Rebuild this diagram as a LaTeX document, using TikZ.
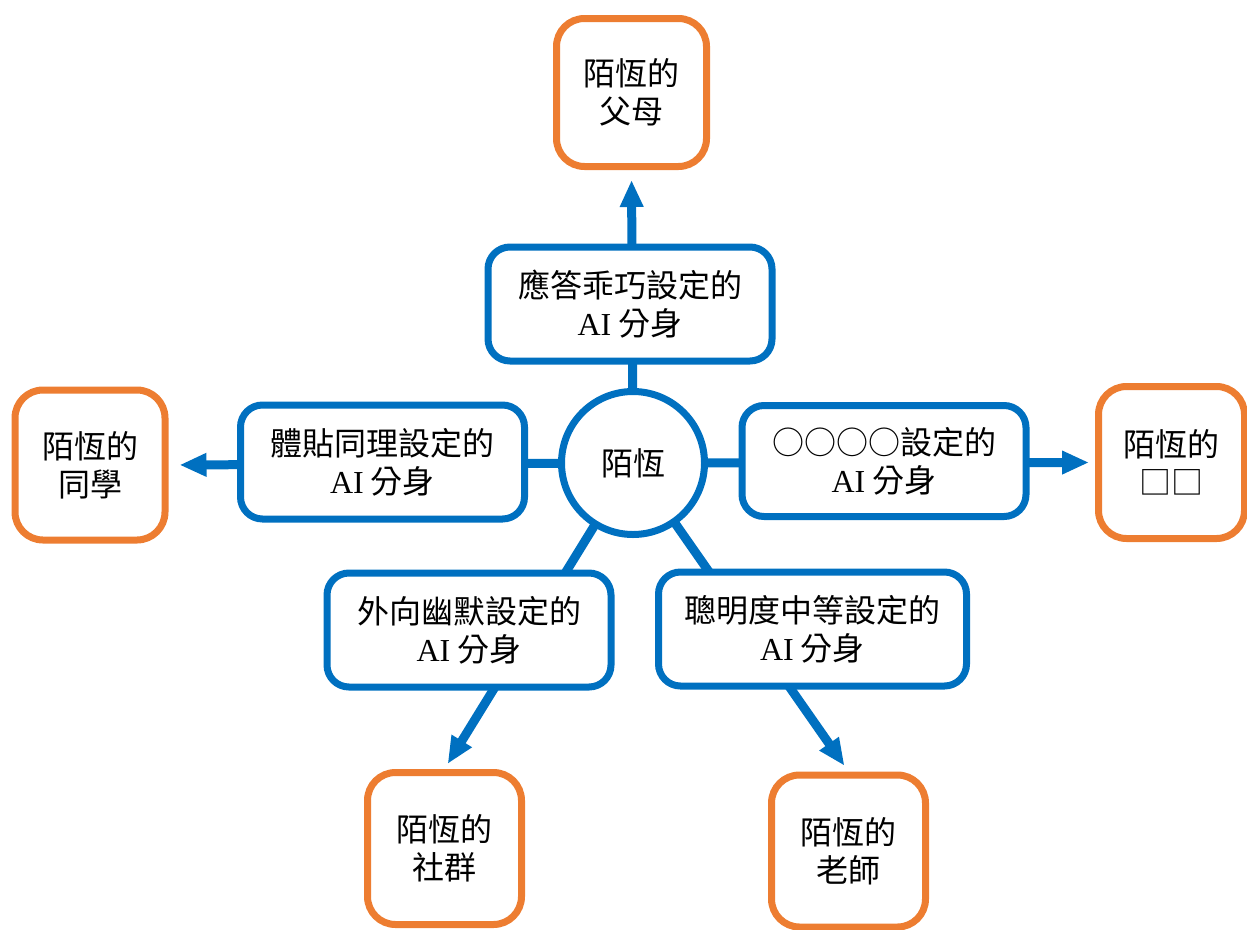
\documentclass[tikz,border=0pt]{standalone}
\usepackage{fontspec}
\setmainfont{Liberation Serif}
\newfontfamily\cjk{Noto Sans CJK TC}
\usetikzlibrary{arrows.meta,backgrounds}
\definecolor{myblue}{HTML}{0070C0}
\definecolor{myorange}{HTML}{ED7D31}
\tikzset{
  txt/.style={align=center, inner sep=0pt, font=\cjk\fontsize{32}{38}\selectfont, text=black},
  bluebox/.style={txt, draw=myblue, line width=7pt, rounded corners=22pt, fill=white, minimum width=284pt, minimum height=114pt},
  orangebox/.style={txt, draw=myorange, line width=7pt, rounded corners=28pt, fill=white, minimum width=150pt, minimum height=150pt},
  hub/.style={txt, circle, draw=myblue, line width=7pt, fill=white, minimum size=143pt},
  conn/.style={draw=myblue, line width=9pt},
  arr/.style={conn, -{Triangle[length=27pt,width=22pt]}}
}
\begin{document}
\begin{tikzpicture}[x=1pt,y=-1pt]
\useasboundingbox (0,0) rectangle (1247,929);
\clip (0,0) rectangle (1247,929);
% hub
\node[hub] (c) at (633,463) {陌恆};
% blue boxes
\node[bluebox] (bTop) at (630,304) {應答乖巧設定的\\{\rmfamily AI} 分身};
\node[bluebox] (bLeft) at (382.5,462) {體貼同理設定的\\{\rmfamily AI} 分身};
\node[bluebox, minimum height=111pt] (bRight) at (884,461) {○○○○設定的\\{\rmfamily AI} 分身};
\node[bluebox] (bLL) at (469,630) {外向幽默設定的\\{\rmfamily AI} 分身};
\node[bluebox, minimum width=308pt] (bLR) at (812.5,629) {聰明度中等設定的\\{\rmfamily AI} 分身};
% orange boxes
\node[orangebox, minimum height=148pt] (oTop) at (631.5,92.5) {陌恆的\\父母};
\node[orangebox] (oLeft) at (90,465) {陌恆的\\同學};
\node[orangebox, minimum width=146pt, minimum height=152pt] (oRight) at (1171.5,462.5) {陌恆的\\□□};
\node[orangebox, minimum width=154pt, minimum height=152pt] (oLL) at (444.5,848.5) {陌恆的\\社群};
\node[orangebox, minimum width=154pt, minimum height=152pt] (oLR) at (848.5,851) {陌恆的\\老師};
% connectors
\begin{pgfonlayer}{background}
\draw[arr, shorten >=10pt] (c.center) -- (oTop.south);
\draw[arr, shorten >=11pt] (c.center) -- (oLeft.east);
\draw[arr, shorten >=6pt] (c.center) -- (oRight.west);
\draw[arr, shorten >=6pt] (c.center) -- (oLL.north);
\draw[arr, shorten >=7pt] (c.center) -- (oLR.north);
\end{pgfonlayer}
\end{tikzpicture}
\end{document}
